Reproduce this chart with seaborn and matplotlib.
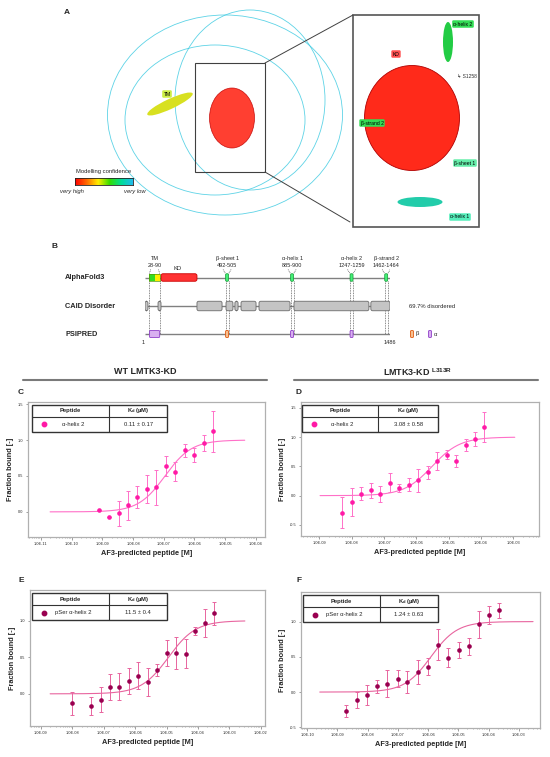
import numpy as np
import matplotlib
matplotlib.use("Agg")
import matplotlib.pyplot as plt
from matplotlib.patches import Rectangle, FancyBboxPatch, Ellipse
from matplotlib.colors import LinearSegmentedColormap
from matplotlib.ticker import FixedLocator, FuncFormatter, LogLocator, NullFormatter
import seaborn as sns

sns.set_theme(style="white")
plt.rcParams["font.family"] = ["Liberation Sans", "DejaVu Sans"]
plt.rcParams["mathtext.fontset"] = "custom"
plt.rcParams["mathtext.rm"] = "Liberation Sans"
plt.rcParams["mathtext.bf"] = "Liberation Sans:bold"
plt.rcParams["mathtext.it"] = "Liberation Sans:italic"

# ---------------- data ----------------
# panel B: domain map (residue numbers)
seq_len = 1486
feat_names = ["TM", "β-sheet 1", "α-helix 1", "α-helix 2", "β-strand 2"]
feat_start = [28, 492, 885, 1247, 1462]
feat_end = [90, 505, 900, 1259, 1464]
psipred_type = ["α", "β", "α", "α", None]
kd_start, kd_end = 98, 316
caid_start = [1, 80, 316, 492, 546, 583, 692, 904, 1370]
caid_end = [19, 98, 468, 534, 565, 674, 880, 1358, 1486]
disordered_txt = "69.7% disordered"

# panel C: WT LMTK3-KD + alpha-helix 2 (log10 M)
c_logconc = [-9.10, -8.79, -8.47, -8.17, -7.86, -7.55, -7.24, -6.94, -6.63, -6.32, -6.01, -5.70, -5.39]
c_bound = [0.02, -0.075, -0.02, 0.09, 0.21, 0.32, 0.34, 0.64, 0.56, 0.86, 0.79, 0.96, 1.12]
c_err = [0.0, 0.0, 0.17, 0.20, 0.15, 0.20, 0.25, 0.14, 0.13, 0.09, 0.10, 0.11, 0.28]
c_kd_um = 0.11

# panel D: LMTK3-KD L313R + alpha-helix 2
d_logconc = [-8.30, -8.00, -7.71, -7.41, -7.12, -6.82, -6.54, -6.24, -5.94, -5.65, -5.35, -5.06, -4.76, -4.47, -4.18, -3.89]
d_bound = [-0.29, -0.11, 0.03, 0.09, 0.03, 0.22, 0.13, 0.19, 0.26, 0.40, 0.59, 0.70, 0.59, 0.87, 0.97, 1.17]
d_err = [0.26, 0.24, 0.11, 0.13, 0.14, 0.16, 0.07, 0.11, 0.20, 0.11, 0.15, 0.08, 0.10, 0.10, 0.12, 0.26]
d_kd_um = 3.08

# panel E: WT LMTK3-KD + pSer alpha-helix 2
e_logconc = [-7.99, -7.40, -7.09, -6.80, -6.50, -6.19, -5.90, -5.59, -5.29, -5.00, -4.70, -4.39, -4.10, -3.79, -3.49]
e_bound = [-0.13, -0.17, -0.08, 0.09, 0.10, 0.18, 0.25, 0.16, 0.33, 0.56, 0.56, 0.55, 0.86, 0.97, 1.10]
e_err = [0.16, 0.12, 0.17, 0.18, 0.18, 0.18, 0.19, 0.19, 0.08, 0.18, 0.22, 0.20, 0.06, 0.19, 0.16]
e_kd_um = 11.5

# panel F: LMTK3-KD L313R + pSer alpha-helix 2
f_logconc = [-8.70, -8.36, -8.02, -7.69, -7.35, -7.01, -6.68, -6.33, -6.00, -5.66, -5.33, -4.99, -4.65, -4.32, -3.97, -3.64]
f_bound = [-0.27, -0.11, -0.04, 0.08, 0.12, 0.19, 0.14, 0.28, 0.36, 0.67, 0.49, 0.60, 0.65, 0.96, 1.09, 1.16]
f_err = [0.08, 0.11, 0.14, 0.09, 0.19, 0.12, 0.16, 0.17, 0.12, 0.22, 0.13, 0.11, 0.12, 0.19, 0.13, 0.11]
f_kd_um = 1.24

PINK = "#ff1aa6"
PINK_LIGHT = "#ff70c8"
MAROON = "#990050"
MAROON_LINE = "#e8659f"

W, H = 550, 757
fig = plt.figure(figsize=(W / 100, H / 100), dpi=100)


def px_axes(x0, y0, x1, y1):
    # axes placed with pixel box (top-left origin)
    return fig.add_axes([x0 / W, 1 - y1 / H, (x1 - x0) / W, (y1 - y0) / H])


# overlay for free text / panel A schematic
ov = px_axes(0, 0, W, H)
ov.set_xlim(0, W)
ov.set_ylim(H, 0)
ov.axis("off")

# ---------------- panel A ----------------
ov.text(67, 12, "A", fontsize=6, fontweight="bold", ha="center", va="center")
for cx, cy, w, h in [(225, 115, 235, 200), (215, 120, 180, 150), (250, 100, 150, 180)]:
    ov.add_patch(Ellipse((cx, cy), w, h, fill=False, edgecolor="#35c8e0", lw=0.6, alpha=0.8))
ov.add_patch(Ellipse((232, 118), 45, 60, facecolor="#ff2a1a", edgecolor="#c00000", lw=0.5, alpha=0.9))
ov.add_patch(Ellipse((170, 104), 50, 10, angle=-25, facecolor="#d8e020", edgecolor="none"))
ov.add_patch(Rectangle((195, 63), 70, 109, fill=False, edgecolor="#404040", lw=0.8))
ov.add_patch(Rectangle((353, 15), 126, 212, facecolor="white", edgecolor="#555555", lw=1.2))
ov.plot([265, 353], [63, 15], color="#404040", lw=0.7)
ov.plot([265, 172 * 0 + 265], [172, 172], color="#404040", lw=0.7)
ov.plot([265, 350], [172, 222], color="#404040", lw=0.7)
ov.add_patch(Ellipse((412, 118), 95, 105, facecolor="#ff2a1a", edgecolor="#b00000", lw=0.6))
ov.add_patch(Ellipse((448, 42), 10, 40, facecolor="#22cc44", edgecolor="none"))
ov.add_patch(Ellipse((420, 202), 45, 10, facecolor="#22ccaa", edgecolor="none"))


def tag(x, y, s, bg, color="black"):
    ov.text(x, y, s, fontsize=3.6, ha="center", va="center", color=color,
            bbox=dict(boxstyle="round,pad=0.25", facecolor=bg, edgecolor="none"))


tag(463, 24, "α-helix 2", "#33dd55")
tag(396, 54, "KD", "#ff5050")
ov.text(457, 76, "↳ S1258", fontsize=3.6, ha="left", va="center", color="#333333")
tag(372, 123, "β-strand 2", "#33dd55")
tag(465, 163, "β-sheet 1", "#66eeaa")
tag(460, 217, "α-helix 1", "#55eebb")
tag(167, 94, "TM", "#ccee44")

cmap = LinearSegmentedColormap.from_list(
    "conf", ["#ff0000", "#ff6a00", "#ffee00", "#33dd00", "#00dd99", "#22bbee"])
cax = px_axes(75, 178, 133, 185)
cax.imshow(np.linspace(0, 1, 256)[None, :], aspect="auto", cmap=cmap)
cax.set_xticks([])
cax.set_yticks([])
for s in cax.spines.values():
    s.set_color("#222222")
    s.set_linewidth(0.6)
ov.text(104, 172, "Modelling confidence", fontsize=4.2, ha="center", va="center")
ov.text(72, 191, "very high", fontsize=4.2, ha="center", va="center", style="italic")
ov.text(135, 191, "very low", fontsize=4.2, ha="center", va="center", style="italic")

# ---------------- panel B ----------------
ov.text(55, 246, "B", fontsize=6, fontweight="bold", ha="center", va="center")
row_y = {"AlphaFold3": 277.5, "CAID Disorder": 306, "PSIPRED": 334}
for name, y in row_y.items():
    ov.text(65, y, name, fontsize=5.3, fontweight="bold", ha="left", va="center")

axB = px_axes(145, 250, 390, 350)
axB.set_xlim(1, seq_len)
axB.set_ylim(350, 250)
axB.axis("off")
asp = (100 / 100) / (245 / (seq_len - 1))  # y data units per x data unit (per pixel)
axB.hlines(list(row_y.values()), 1, seq_len, color="#808080", lw=1.0, zorder=1)


def rbox(x0, x1, yc, h, fc, ec, r=1.5, lw=0.6, z=3):
    axB.add_patch(FancyBboxPatch((x0, yc - h / 2), x1 - x0, h,
                                 boxstyle=f"round,pad=0,rounding_size={r / 0.165:.2f}",
                                 mutation_aspect=0.165, facecolor=fc, edgecolor=ec, lw=lw, zorder=z))


yA, yC, yP = row_y["AlphaFold3"], row_y["CAID Disorder"], row_y["PSIPRED"]
rbox(kd_start, kd_end, yA, 7.5, "#ff3333", "#cc0000", r=2)
axB.text((kd_start + kd_end) / 2 - 10, 268, "KD", fontsize=4.2, ha="center", va="center")

for s0, s1 in zip(caid_start, caid_end):
    rbox(s0, s1, yC, 9.5, "#c4c4c4", "#6a6a6a", r=1.8)

for name, s0, s1, ptype in zip(feat_names, feat_start, feat_end, psipred_type):
    c = (s0 + s1) / 2
    half = max((s1 - s0) / 2, 9)
    b0, b1 = c - half, c + half
    if name == "TM":
        axB.add_patch(Rectangle((b0, yA - 3.75), c - b0, 7.5, facecolor="#33dd22", edgecolor="none", zorder=3))
        axB.add_patch(Rectangle((c, yA - 3.75), b1 - c, 7.5, facecolor="#ffee00", edgecolor="none", zorder=3))
        axB.add_patch(Rectangle((b0, yA - 3.75), b1 - b0, 7.5, fill=False, edgecolor="#559900", lw=0.5, zorder=4))
    else:
        rbox(b0, b1, yA, 7.5, "#44ee77", "#119933", r=1, lw=0.5)
    axB.text(c, 258, name, fontsize=4.0, ha="center", va="center")
    axB.text(c, 265.5, f"{s0}-{s1}", fontsize=4.0, ha="center", va="center")
    spread = 4 / 0.165
    for bx, tx in [(b0, c - spread), (b1, c + spread)]:
        axB.plot([tx, bx], [269.5, yA - 3.75], color="#444444", lw=0.5, ls=(0, (1.2, 1.2)), zorder=2)
        axB.plot([bx, bx], [yA + 3.75, yP], color="#444444", lw=0.5, ls=(0, (1.2, 1.2)), zorder=2)
    if ptype == "α":
        rbox(b0, b1, yP, 7, "#d9b0f0", "#9040c8", r=1, lw=0.6, z=4)
    elif ptype == "β":
        rbox(b0, b1, yP, 7, "#f8c090", "#e05a10", r=1, lw=0.6, z=4)

axB.text(1, 342.5, "1", fontsize=4.0, ha="right", va="center")
axB.text(seq_len, 342.5, str(seq_len), fontsize=4.0, ha="center", va="center")

ov.text(409, 306, disordered_txt, fontsize=4.2, ha="left", va="center")
ov.add_patch(FancyBboxPatch((410.5, 330.5), 3, 7, boxstyle="round,pad=0,rounding_size=1",
                            facecolor="#f8c090", edgecolor="#e05a10", lw=0.6))
ov.text(416, 334, "β", fontsize=4.2, ha="left", va="center")
ov.add_patch(FancyBboxPatch((428.5, 330.5), 3, 7, boxstyle="round,pad=0,rounding_size=1",
                            facecolor="#d9b0f0", edgecolor="#9040c8", lw=0.6))
ov.text(434, 334, "α", fontsize=4.2, ha="left", va="center")

# ---------------- headers ----------------
ov.text(145, 372, "WT LMTK3-KD", fontsize=6.5, fontweight="bold", ha="center", va="center")
ov.plot([23, 267], [380, 380], color="#7a7a7a", lw=1.5)
ov.text(418, 372, r"LMTK3-KD $^{\mathbf{L313R}}$", fontsize=6.5, fontweight="bold", ha="center", va="center")
ov.plot([294, 538], [380, 380], color="#7a7a7a", lw=1.5)


# ---------------- binding curves ----------------
def binding_panel(ax, logconc, bound, err, kd_um, peptide, mcol, lcol, ecol,
                  xlim_log, ylim, yticks, decades, curve_log, tab):
    conc = 10.0 ** np.array(logconc)
    ax.set_xscale("log")
    xs = np.logspace(curve_log[0], curve_log[1], 300)
    kd = kd_um * 1e-6
    sns.lineplot(x=xs, y=xs / (kd + xs), ax=ax, color=lcol, lw=0.8, zorder=2)
    ax.errorbar(conc, bound, yerr=err, fmt="none", ecolor=ecol, elinewidth=0.7,
                capsize=1.3, capthick=0.7, zorder=3)
    sns.scatterplot(x=conc, y=bound, ax=ax, color=mcol, s=11, linewidth=0, zorder=4)
    ax.set_xlim(10.0 ** xlim_log[0], 10.0 ** xlim_log[1])
    ax.set_ylim(*ylim)
    ax.xaxis.set_major_locator(FixedLocator([10.0 ** d for d in decades]))
    ax.xaxis.set_major_formatter(FuncFormatter(lambda v, p: f"{v:.1E}"))
    ax.xaxis.set_minor_locator(LogLocator(base=10, subs=np.arange(2, 10), numticks=30))
    ax.xaxis.set_minor_formatter(NullFormatter())
    ax.yaxis.set_major_locator(FixedLocator(yticks))
    ax.yaxis.set_major_formatter(FuncFormatter(lambda v, p: f"{v:.1f}"))
    ax.tick_params(axis="both", which="major", labelsize=2.8, length=1.8, width=0.5,
                   color="#777777", pad=1.5, bottom=True, left=True)
    ax.tick_params(axis="x", which="minor", length=1.0, width=0.4, color="#777777", bottom=True)
    for s in ax.spines.values():
        s.set_color("#b0b0b0")
        s.set_linewidth(0.9)
    ax.set_xlabel("AF3-predicted peptide [M]", fontsize=5.3, fontweight="bold", labelpad=3)
    ax.set_ylabel("Fraction bound [-]", fontsize=5.3, fontweight="bold", labelpad=3)

    x0, x1, xd = tab
    top, mid, bot = 0.978, 0.889, 0.778
    ax.add_patch(Rectangle((x0, bot), x1 - x0, top - bot, transform=ax.transAxes,
                           facecolor="white", edgecolor="#333333", lw=1.0, zorder=6))
    ax.plot([x0, x1], [mid, mid], transform=ax.transAxes, color="#333333", lw=0.8, zorder=7)
    ax.plot([xd, xd], [bot, top], transform=ax.transAxes, color="#333333", lw=0.8, zorder=7)
    ax.text((x0 + xd) / 2, (top + mid) / 2, "Peptide", transform=ax.transAxes,
            fontsize=4.2, fontweight="bold", ha="center", va="center", zorder=8)
    ax.text((xd + x1) / 2, (top + mid) / 2, r"K$_\mathbf{d}$ (µM)", transform=ax.transAxes,
            fontsize=4.2, fontweight="bold", ha="center", va="center", zorder=8)
    ax.plot([x0 + 0.05], [(mid + bot) / 2], "o", ms=3.2, color=mcol, transform=ax.transAxes,
            zorder=8, clip_on=False)
    ax.text((x0 + xd) / 2 + 0.01, (mid + bot) / 2, peptide, transform=ax.transAxes,
            fontsize=4.2, ha="center", va="center", zorder=8)
    kd_err = {0.11: "0.17", 3.08: "0.58", 11.5: "0.4", 1.24: "0.63"}[kd_um]
    ax.text((xd + x1) / 2, (mid + bot) / 2, f"{kd_um:g} ± {kd_err}", transform=ax.transAxes,
            fontsize=4.2, ha="center", va="center", zorder=8)


axC = px_axes(28, 402, 265, 537)
binding_panel(axC, c_logconc, c_bound, c_err, c_kd_um, "α-helix 2", PINK, PINK_LIGHT, PINK_LIGHT,
              (-11.42, -3.7), (-0.35, 1.53), [0.0, 0.5, 1.0, 1.5], range(-11, -3), (-10.7, -4.36),
              (0.017, 0.587, 0.342))
axD = px_axes(301, 402, 539, 536)
binding_panel(axD, d_logconc, d_bound, d_err, d_kd_um, "α-helix 2", PINK, PINK_LIGHT, PINK_LIGHT,
              (-9.57, -2.2), (-0.69, 1.6), [-0.5, 0.0, 0.5, 1.0, 1.5], range(-9, -2), (-8.98, -2.95),
              (0.004, 0.576, 0.324))
axE = px_axes(30, 590, 265, 726)
binding_panel(axE, e_logconc, e_bound, e_err, e_kd_um, "pSer α-helix 2", MAROON, MAROON_LINE, MAROON_LINE,
              (-9.34, -1.87), (-0.44, 1.42), [0.0, 0.5, 1.0], range(-9, -1), (-8.70, -2.51),
              (0.009, 0.583, 0.336))
axF = px_axes(301, 592, 540, 728)
binding_panel(axF, f_logconc, f_bound, f_err, f_kd_um, "pSer α-helix 2", MAROON, MAROON_LINE, MAROON_LINE,
              (-10.2, -2.3), (-0.51, 1.42), [-0.5, 0.0, 0.5, 1.0], range(-10, -2), (-9.58, -2.53),
              (0.008, 0.573, 0.331))

for s, x, y in [("C", 21, 392), ("D", 299, 392), ("E", 21, 581), ("F", 299, 581)]:
    ov.text(x, y, s, fontsize=6, fontweight="bold", ha="center", va="center")

fig.savefig("out.png", dpi=100)
